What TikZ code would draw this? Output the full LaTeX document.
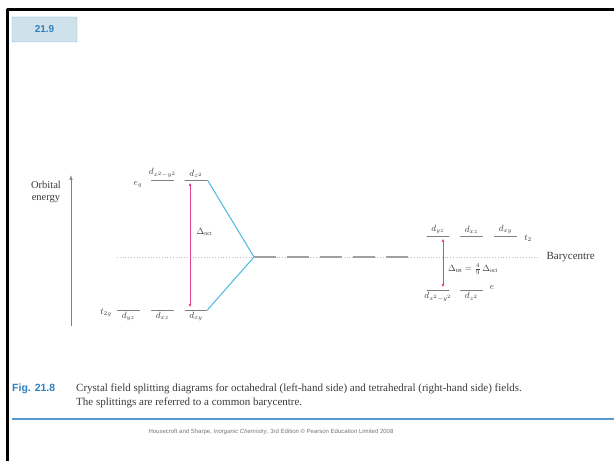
\documentclass[tikz,border=0pt]{standalone}
\usepackage{fontspec}
\setmainfont{Liberation Serif}
\setsansfont{Liberation Sans}
\usetikzlibrary{arrows.meta}
\definecolor{ink}{HTML}{3A3A3A}
\definecolor{figblue}{HTML}{2F80C0}
\definecolor{boxfill}{HTML}{CFE1EA}
\definecolor{boxedge}{HTML}{86B8D6}
\definecolor{split}{HTML}{55BDE0}
\definecolor{gap}{HTML}{E2408F}
\definecolor{bary}{HTML}{A0A0A0}

\begin{document}
\begin{tikzpicture}[x=1pt,y=1pt,>=Latex,line join=round,font=\rmfamily,
  level/.style={draw=ink,line width=.8pt,minimum width=22pt,minimum height=0pt,inner sep=0pt},
  orb/.style={text=ink,font=\small,inner sep=1.5pt},
  splitline/.style={split,line width=1.1pt},
  gaparrow/.style={gap,line width=.7pt,{Latex[length=3.5pt,width=2.8pt]}-{Latex[length=3.5pt,width=2.8pt]}}]
  \useasboundingbox (0,0) rectangle (614,461);

  % Slide frame and number tag.
  \draw[black,line width=3pt] (7,0)--(7,451)--(614,451);
  \node[draw=boxedge,fill=boxfill,rounded corners=1pt,minimum width=65pt,minimum height=25pt,
    text=figblue,font=\sffamily\bfseries] (tag) at (44.5,431.5) {21.9};

  % Energy axis.
  \coordinate (axis0) at (71,135);
  \coordinate (axis1) at (71,286);
  \draw[bary!80!black,line width=.7pt,-{Latex[length=5pt,width=3.5pt]}] (axis0)--(axis1);
  \node[text=ink,font=\fontsize{10.5}{12.5}\selectfont,align=center] (energy) at (46,269) {Orbital\\energy};

  % Barycentre.
  \coordinate (centre) at (254,204);
  \coordinate (b0) at (117,204);
  \coordinate (b1) at (538,204);
  \draw[bary!70,line width=.8pt,dotted] (b0)--(b1);
  \draw[bary,line width=2pt,dash pattern=on 22pt off 11pt] (centre)--(410,204);
  \node[text=ink,font=\fontsize{11}{13}\selectfont,anchor=west] (barylab) at (543,204) {Barycentre};

  % Octahedral field.
  \node[level] (dx2y2) at (162.5,281) {};
  \node[level] (dz2) at (196,281) {};
  \node[level] (dyz) at (128.5,151) {};
  \node[level] (dxz) at (162.5,151) {};
  \node[level] (dxy) at (196,151) {};
  \node[orb,above] at (dx2y2.north) {$d_{x^2-y^2}$};
  \node[orb,above] at (dz2.north) {$d_{z^2}$};
  \node[orb,below] at (dyz.south) {$d_{yz}$};
  \node[orb,below] at (dxz.south) {$d_{xz}$};
  \node[orb,below] at (dxy.south) {$d_{xy}$};
  \node[orb] (eg) at (138,276) {$e_g$};
  \node[orb] (t2g) at (106,148) {$t_{2g}$};
  \draw[splitline] (dz2.east)--(centre)--(dxy.east);
  \coordinate (oct0) at (190,278.5);
  \coordinate (oct1) at (190,153.5);
  \draw[gaparrow] (oct0)--(oct1);
  \node[orb,anchor=west] (doct) at (195,229) {$\Delta_{\rm oct}$};

  % Tetrahedral field.
  \node[level] (tyz) at (438,225) {};
  \node[level] (txz) at (471.5,225) {};
  \node[level] (txy) at (505.5,225) {};
  \node[level] (tx2y2) at (438,171) {};
  \node[level] (tz2) at (471.5,171) {};
  \node[orb,above] at (tyz.north) {$d_{yz}$};
  \node[orb,above] at (txz.north) {$d_{xz}$};
  \node[orb,above] at (txy.north) {$d_{xy}$};
  \node[orb,below] at (tx2y2.south) {$d_{x^2-y^2}$};
  \node[orb,below] at (tz2.south) {$d_{z^2}$};
  \node[orb] (t2) at (528,223) {$t_2$};
  \node[orb] (e) at (492,173) {$e$};
  \coordinate (tet0) at (443,222.5);
  \coordinate (tet1) at (443,173.5);
  \draw[gaparrow] (tet0)--(tet1);
  \node[orb,anchor=west,inner sep=0pt] (dtet) at (448,192) {$\Delta_{\rm tet}=\frac{4}{9}\,\Delta_{\rm oct}$};

  % Caption.
  \node[text=figblue,font=\sffamily\bfseries\fontsize{10.5}{13}\selectfont,anchor=base west,inner sep=0pt] (fig) at (12,69) {Fig. 21.8};
  \node[text=ink,anchor=north west,align=left,inner sep=0pt,font=\rmfamily\fontsize{11}{14}\selectfont]
    (cap) at (76,77) {Crystal field splitting diagrams for octahedral (left-hand side) and tetrahedral (right-hand side) fields.\\
    The splittings are referred to a common barycentre.};
  \draw[figblue!80,line width=1.8pt] (12,42)--(614,42);
  \node[text=ink!70,font=\sffamily\fontsize{6}{7}\selectfont] (credit) at (271,29)
    {Housecroft and Sharpe, \textit{Inorganic Chemistry}, 3rd Edition \textcopyright\ Pearson Education Limited 2008};
\end{tikzpicture}
\end{document}
